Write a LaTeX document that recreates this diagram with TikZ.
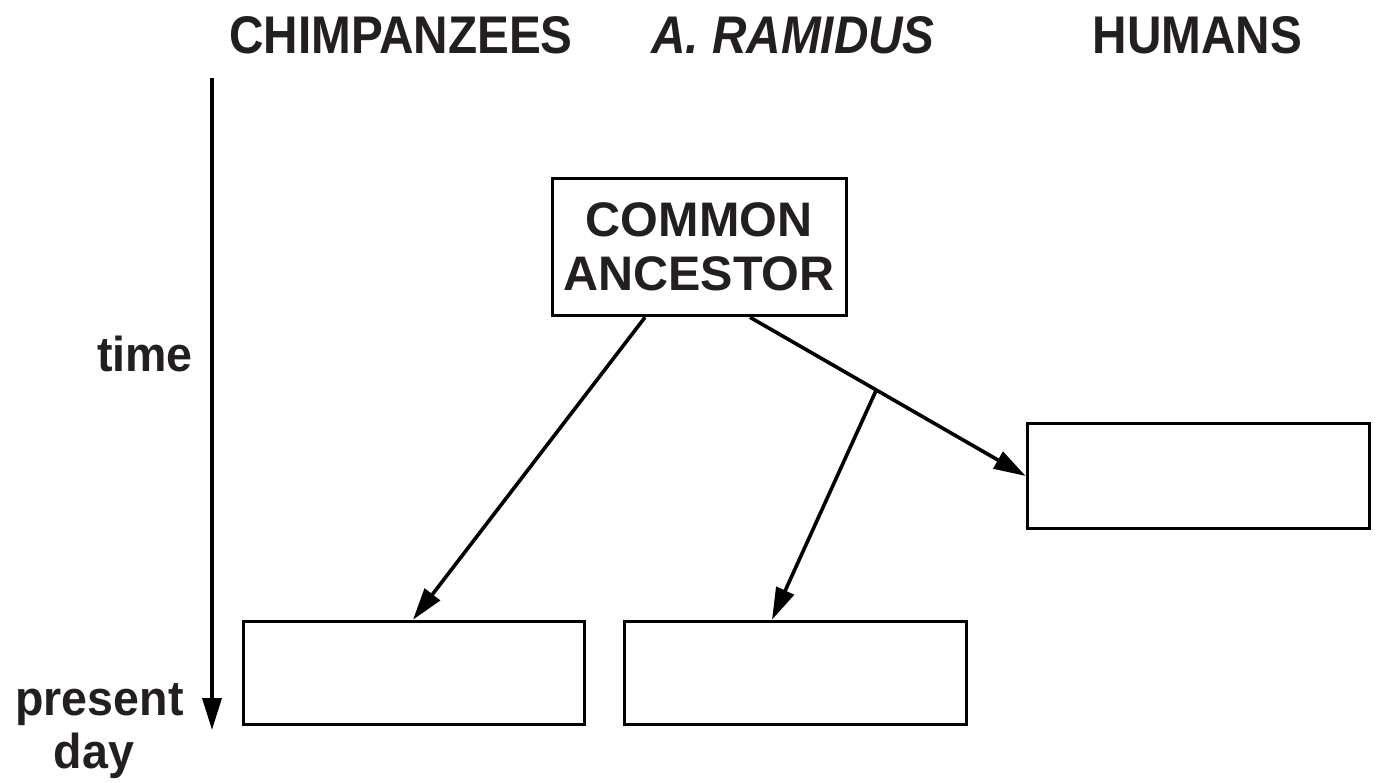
\documentclass[tikz,border=0pt]{standalone}
\usepackage{fontspec}
\setmainfont{Liberation Sans}
\newfontfamily\headfont[FakeStretch=0.9]{Liberation Sans}
\newfontfamily\sidefont[FakeStretch=0.95]{Liberation Sans}
\usetikzlibrary{arrows.meta,calc}
\definecolor{ink}{RGB}{35,31,32}
\begin{document}
\begin{tikzpicture}[x=1pt,y=-1pt,
  lw/.style={line width=3.6pt},
  boxnode/.style={draw,lw,inner sep=0pt,minimum width=#1},
  arr/.style={lw,-{Triangle[length=32pt,width=19pt]}},
  lab/.style={inner sep=0pt,text=ink,font=\fontsize{48.5}{54}\selectfont\bfseries},
  side/.style={inner sep=0pt,text=ink,font=\sidefont\fontsize{49}{53}\selectfont\bfseries},
  head/.style={inner sep=0pt,anchor=base,text=ink,font=\headfont\fontsize{53}{56}\selectfont\bfseries}
]
\useasboundingbox (0,0) rectangle (1381,782);
% boxes
\node[boxnode=294pt,minimum height=137pt] (ca) at (699.5,247) {};
\node[boxnode=341pt,minimum height=103pt] (bl) at (414,673) {};
\node[boxnode=342pt,minimum height=103pt] (bm) at (795.5,673) {};
\node[boxnode=342pt,minimum height=105pt] (r) at (1198.5,476) {};
% box text
\node[lab,anchor=base] (c1) at (699,236) {COMMON};
\node[lab,anchor=base] (c2) at (699,290) {ANCESTOR};
% headers
\node[head] (h1) at (401,53) {CHIMPANZEES};
\node[head] (h2) at (793,53) {\itshape A. RAMIDUS};
\node[head] (h3) at (1197.5,53) {HUMANS};
% time axis
\coordinate (t0) at (212,78);
\coordinate (t1) at (212,730);
\draw[arr] (t0) -- (t1);
\node[side,anchor=base east] (tm) at (193,371) {time};
\node[side,anchor=base] (pr) at (99.5,715) {present};
\node[side,anchor=base] (dy) at (94,768) {day};
% connectors
\coordinate (a1) at ([xshift=-54.5pt]ca.south);
\coordinate (a2) at ([xshift=50.5pt]ca.south);
\draw[arr] (a1) -- ([xshift=-1pt]bl.north);
\draw[arr] (a2) -- (r.west);
\coordinate (br) at ($(a2)!0.458!(r.west)$);
\draw[arr] (br) -- ([xshift=-23.5pt]bm.north);
\end{tikzpicture}
\end{document}
